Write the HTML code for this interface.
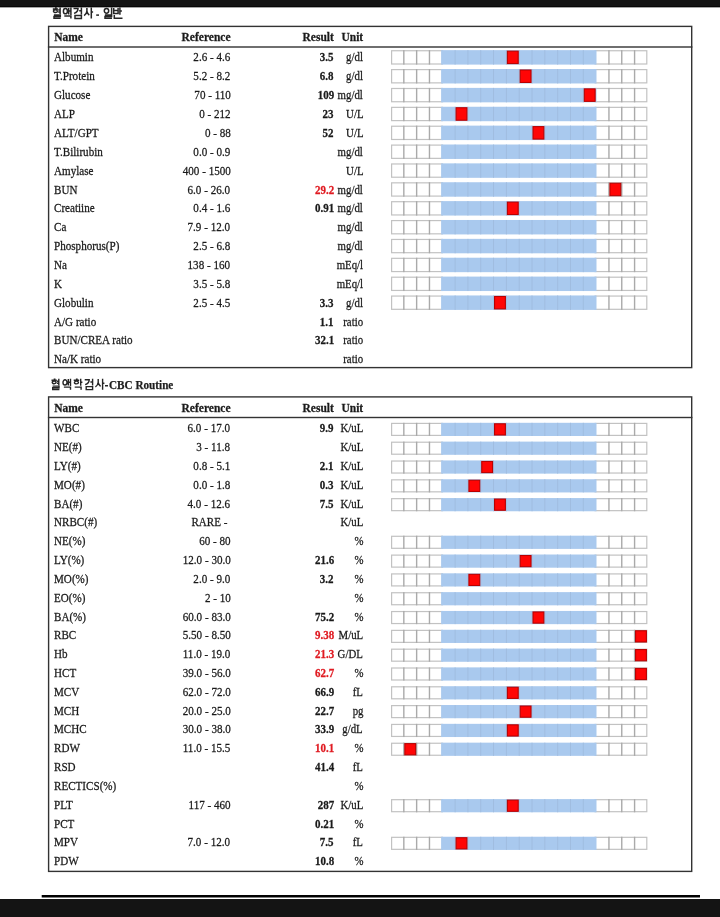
<!DOCTYPE html>
<html><head><meta charset="utf-8"><style>
html,body{margin:0;padding:0;background:#fff;}
body{width:720px;height:917px;position:relative;overflow:hidden;font-family:"Liberation Serif",serif;}
.t{position:absolute;font-size:11.5px;line-height:18.8px;white-space:pre;-webkit-text-stroke:0.25px currentColor;}
svg{position:absolute;left:0;top:0;}
#wrap{position:absolute;left:0;top:0;width:720px;height:917px;filter:blur(0.45px);}
</style></head><body>
<div id="wrap">
<svg width="720" height="917" viewBox="0 0 720 917">
<rect x="48.60" y="26.40" width="643.10" height="341.20" fill="none" stroke="#333" stroke-width="1.4"/><rect x="47.9" y="46.30" width="644.50" height="1.4" fill="#333"/><rect x="391.60" y="50.75" width="50.90" height="13.25" fill="#fff" stroke="#c2c2c2" stroke-width="1.2"/><rect x="595.10" y="50.75" width="51.70" height="13.25" fill="#fff" stroke="#c2c2c2" stroke-width="1.2"/><rect x="403.12" y="50.15" width="1.4" height="14.45" fill="#aaaaaa"/><rect x="415.94" y="50.15" width="1.4" height="14.45" fill="#aaaaaa"/><rect x="428.76" y="50.15" width="1.4" height="14.45" fill="#aaaaaa"/><rect x="608.24" y="50.15" width="1.4" height="14.45" fill="#aaaaaa"/><rect x="621.06" y="50.15" width="1.4" height="14.45" fill="#aaaaaa"/><rect x="633.88" y="50.15" width="1.4" height="14.45" fill="#aaaaaa"/><rect x="441.10" y="50.15" width="155.40" height="14.45" fill="#a9c9ee"/><rect x="454.60" y="50.15" width="1" height="14.45" fill="#a0bde0"/><rect x="467.42" y="50.15" width="1" height="14.45" fill="#a0bde0"/><rect x="480.24" y="50.15" width="1" height="14.45" fill="#a0bde0"/><rect x="493.06" y="50.15" width="1" height="14.45" fill="#a0bde0"/><rect x="505.88" y="50.15" width="1" height="14.45" fill="#a0bde0"/><rect x="518.70" y="50.15" width="1" height="14.45" fill="#a0bde0"/><rect x="531.52" y="50.15" width="1" height="14.45" fill="#a0bde0"/><rect x="544.34" y="50.15" width="1" height="14.45" fill="#a0bde0"/><rect x="557.16" y="50.15" width="1" height="14.45" fill="#a0bde0"/><rect x="569.98" y="50.15" width="1" height="14.45" fill="#a0bde0"/><rect x="582.80" y="50.15" width="1" height="14.45" fill="#a0bde0"/><rect x="507.38" y="51.15" width="10.82" height="12.45" fill="#ff0505" stroke="#b80000" stroke-width="1.1"/><rect x="391.60" y="69.62" width="50.90" height="13.25" fill="#fff" stroke="#c2c2c2" stroke-width="1.2"/><rect x="595.10" y="69.62" width="51.70" height="13.25" fill="#fff" stroke="#c2c2c2" stroke-width="1.2"/><rect x="403.12" y="69.02" width="1.4" height="14.45" fill="#aaaaaa"/><rect x="415.94" y="69.02" width="1.4" height="14.45" fill="#aaaaaa"/><rect x="428.76" y="69.02" width="1.4" height="14.45" fill="#aaaaaa"/><rect x="608.24" y="69.02" width="1.4" height="14.45" fill="#aaaaaa"/><rect x="621.06" y="69.02" width="1.4" height="14.45" fill="#aaaaaa"/><rect x="633.88" y="69.02" width="1.4" height="14.45" fill="#aaaaaa"/><rect x="441.10" y="69.02" width="155.40" height="14.45" fill="#a9c9ee"/><rect x="454.60" y="69.02" width="1" height="14.45" fill="#a0bde0"/><rect x="467.42" y="69.02" width="1" height="14.45" fill="#a0bde0"/><rect x="480.24" y="69.02" width="1" height="14.45" fill="#a0bde0"/><rect x="493.06" y="69.02" width="1" height="14.45" fill="#a0bde0"/><rect x="505.88" y="69.02" width="1" height="14.45" fill="#a0bde0"/><rect x="518.70" y="69.02" width="1" height="14.45" fill="#a0bde0"/><rect x="531.52" y="69.02" width="1" height="14.45" fill="#a0bde0"/><rect x="544.34" y="69.02" width="1" height="14.45" fill="#a0bde0"/><rect x="557.16" y="69.02" width="1" height="14.45" fill="#a0bde0"/><rect x="569.98" y="69.02" width="1" height="14.45" fill="#a0bde0"/><rect x="582.80" y="69.02" width="1" height="14.45" fill="#a0bde0"/><rect x="520.20" y="70.02" width="10.82" height="12.45" fill="#ff0505" stroke="#b80000" stroke-width="1.1"/><rect x="391.60" y="88.49" width="50.90" height="13.25" fill="#fff" stroke="#c2c2c2" stroke-width="1.2"/><rect x="595.10" y="88.49" width="51.70" height="13.25" fill="#fff" stroke="#c2c2c2" stroke-width="1.2"/><rect x="403.12" y="87.89" width="1.4" height="14.45" fill="#aaaaaa"/><rect x="415.94" y="87.89" width="1.4" height="14.45" fill="#aaaaaa"/><rect x="428.76" y="87.89" width="1.4" height="14.45" fill="#aaaaaa"/><rect x="608.24" y="87.89" width="1.4" height="14.45" fill="#aaaaaa"/><rect x="621.06" y="87.89" width="1.4" height="14.45" fill="#aaaaaa"/><rect x="633.88" y="87.89" width="1.4" height="14.45" fill="#aaaaaa"/><rect x="441.10" y="87.89" width="155.40" height="14.45" fill="#a9c9ee"/><rect x="454.60" y="87.89" width="1" height="14.45" fill="#a0bde0"/><rect x="467.42" y="87.89" width="1" height="14.45" fill="#a0bde0"/><rect x="480.24" y="87.89" width="1" height="14.45" fill="#a0bde0"/><rect x="493.06" y="87.89" width="1" height="14.45" fill="#a0bde0"/><rect x="505.88" y="87.89" width="1" height="14.45" fill="#a0bde0"/><rect x="518.70" y="87.89" width="1" height="14.45" fill="#a0bde0"/><rect x="531.52" y="87.89" width="1" height="14.45" fill="#a0bde0"/><rect x="544.34" y="87.89" width="1" height="14.45" fill="#a0bde0"/><rect x="557.16" y="87.89" width="1" height="14.45" fill="#a0bde0"/><rect x="569.98" y="87.89" width="1" height="14.45" fill="#a0bde0"/><rect x="582.80" y="87.89" width="1" height="14.45" fill="#a0bde0"/><rect x="584.30" y="88.89" width="10.82" height="12.45" fill="#ff0505" stroke="#b80000" stroke-width="1.1"/><rect x="391.60" y="107.36" width="50.90" height="13.25" fill="#fff" stroke="#c2c2c2" stroke-width="1.2"/><rect x="595.10" y="107.36" width="51.70" height="13.25" fill="#fff" stroke="#c2c2c2" stroke-width="1.2"/><rect x="403.12" y="106.76" width="1.4" height="14.45" fill="#aaaaaa"/><rect x="415.94" y="106.76" width="1.4" height="14.45" fill="#aaaaaa"/><rect x="428.76" y="106.76" width="1.4" height="14.45" fill="#aaaaaa"/><rect x="608.24" y="106.76" width="1.4" height="14.45" fill="#aaaaaa"/><rect x="621.06" y="106.76" width="1.4" height="14.45" fill="#aaaaaa"/><rect x="633.88" y="106.76" width="1.4" height="14.45" fill="#aaaaaa"/><rect x="441.10" y="106.76" width="155.40" height="14.45" fill="#a9c9ee"/><rect x="454.60" y="106.76" width="1" height="14.45" fill="#a0bde0"/><rect x="467.42" y="106.76" width="1" height="14.45" fill="#a0bde0"/><rect x="480.24" y="106.76" width="1" height="14.45" fill="#a0bde0"/><rect x="493.06" y="106.76" width="1" height="14.45" fill="#a0bde0"/><rect x="505.88" y="106.76" width="1" height="14.45" fill="#a0bde0"/><rect x="518.70" y="106.76" width="1" height="14.45" fill="#a0bde0"/><rect x="531.52" y="106.76" width="1" height="14.45" fill="#a0bde0"/><rect x="544.34" y="106.76" width="1" height="14.45" fill="#a0bde0"/><rect x="557.16" y="106.76" width="1" height="14.45" fill="#a0bde0"/><rect x="569.98" y="106.76" width="1" height="14.45" fill="#a0bde0"/><rect x="582.80" y="106.76" width="1" height="14.45" fill="#a0bde0"/><rect x="456.10" y="107.76" width="10.82" height="12.45" fill="#ff0505" stroke="#b80000" stroke-width="1.1"/><rect x="391.60" y="126.23" width="50.90" height="13.25" fill="#fff" stroke="#c2c2c2" stroke-width="1.2"/><rect x="595.10" y="126.23" width="51.70" height="13.25" fill="#fff" stroke="#c2c2c2" stroke-width="1.2"/><rect x="403.12" y="125.63" width="1.4" height="14.45" fill="#aaaaaa"/><rect x="415.94" y="125.63" width="1.4" height="14.45" fill="#aaaaaa"/><rect x="428.76" y="125.63" width="1.4" height="14.45" fill="#aaaaaa"/><rect x="608.24" y="125.63" width="1.4" height="14.45" fill="#aaaaaa"/><rect x="621.06" y="125.63" width="1.4" height="14.45" fill="#aaaaaa"/><rect x="633.88" y="125.63" width="1.4" height="14.45" fill="#aaaaaa"/><rect x="441.10" y="125.63" width="155.40" height="14.45" fill="#a9c9ee"/><rect x="454.60" y="125.63" width="1" height="14.45" fill="#a0bde0"/><rect x="467.42" y="125.63" width="1" height="14.45" fill="#a0bde0"/><rect x="480.24" y="125.63" width="1" height="14.45" fill="#a0bde0"/><rect x="493.06" y="125.63" width="1" height="14.45" fill="#a0bde0"/><rect x="505.88" y="125.63" width="1" height="14.45" fill="#a0bde0"/><rect x="518.70" y="125.63" width="1" height="14.45" fill="#a0bde0"/><rect x="531.52" y="125.63" width="1" height="14.45" fill="#a0bde0"/><rect x="544.34" y="125.63" width="1" height="14.45" fill="#a0bde0"/><rect x="557.16" y="125.63" width="1" height="14.45" fill="#a0bde0"/><rect x="569.98" y="125.63" width="1" height="14.45" fill="#a0bde0"/><rect x="582.80" y="125.63" width="1" height="14.45" fill="#a0bde0"/><rect x="533.02" y="126.63" width="10.82" height="12.45" fill="#ff0505" stroke="#b80000" stroke-width="1.1"/><rect x="391.60" y="145.10" width="50.90" height="13.25" fill="#fff" stroke="#c2c2c2" stroke-width="1.2"/><rect x="595.10" y="145.10" width="51.70" height="13.25" fill="#fff" stroke="#c2c2c2" stroke-width="1.2"/><rect x="403.12" y="144.50" width="1.4" height="14.45" fill="#aaaaaa"/><rect x="415.94" y="144.50" width="1.4" height="14.45" fill="#aaaaaa"/><rect x="428.76" y="144.50" width="1.4" height="14.45" fill="#aaaaaa"/><rect x="608.24" y="144.50" width="1.4" height="14.45" fill="#aaaaaa"/><rect x="621.06" y="144.50" width="1.4" height="14.45" fill="#aaaaaa"/><rect x="633.88" y="144.50" width="1.4" height="14.45" fill="#aaaaaa"/><rect x="441.10" y="144.50" width="155.40" height="14.45" fill="#a9c9ee"/><rect x="454.60" y="144.50" width="1" height="14.45" fill="#a0bde0"/><rect x="467.42" y="144.50" width="1" height="14.45" fill="#a0bde0"/><rect x="480.24" y="144.50" width="1" height="14.45" fill="#a0bde0"/><rect x="493.06" y="144.50" width="1" height="14.45" fill="#a0bde0"/><rect x="505.88" y="144.50" width="1" height="14.45" fill="#a0bde0"/><rect x="518.70" y="144.50" width="1" height="14.45" fill="#a0bde0"/><rect x="531.52" y="144.50" width="1" height="14.45" fill="#a0bde0"/><rect x="544.34" y="144.50" width="1" height="14.45" fill="#a0bde0"/><rect x="557.16" y="144.50" width="1" height="14.45" fill="#a0bde0"/><rect x="569.98" y="144.50" width="1" height="14.45" fill="#a0bde0"/><rect x="582.80" y="144.50" width="1" height="14.45" fill="#a0bde0"/><rect x="391.60" y="163.97" width="50.90" height="13.25" fill="#fff" stroke="#c2c2c2" stroke-width="1.2"/><rect x="595.10" y="163.97" width="51.70" height="13.25" fill="#fff" stroke="#c2c2c2" stroke-width="1.2"/><rect x="403.12" y="163.37" width="1.4" height="14.45" fill="#aaaaaa"/><rect x="415.94" y="163.37" width="1.4" height="14.45" fill="#aaaaaa"/><rect x="428.76" y="163.37" width="1.4" height="14.45" fill="#aaaaaa"/><rect x="608.24" y="163.37" width="1.4" height="14.45" fill="#aaaaaa"/><rect x="621.06" y="163.37" width="1.4" height="14.45" fill="#aaaaaa"/><rect x="633.88" y="163.37" width="1.4" height="14.45" fill="#aaaaaa"/><rect x="441.10" y="163.37" width="155.40" height="14.45" fill="#a9c9ee"/><rect x="454.60" y="163.37" width="1" height="14.45" fill="#a0bde0"/><rect x="467.42" y="163.37" width="1" height="14.45" fill="#a0bde0"/><rect x="480.24" y="163.37" width="1" height="14.45" fill="#a0bde0"/><rect x="493.06" y="163.37" width="1" height="14.45" fill="#a0bde0"/><rect x="505.88" y="163.37" width="1" height="14.45" fill="#a0bde0"/><rect x="518.70" y="163.37" width="1" height="14.45" fill="#a0bde0"/><rect x="531.52" y="163.37" width="1" height="14.45" fill="#a0bde0"/><rect x="544.34" y="163.37" width="1" height="14.45" fill="#a0bde0"/><rect x="557.16" y="163.37" width="1" height="14.45" fill="#a0bde0"/><rect x="569.98" y="163.37" width="1" height="14.45" fill="#a0bde0"/><rect x="582.80" y="163.37" width="1" height="14.45" fill="#a0bde0"/><rect x="391.60" y="182.84" width="50.90" height="13.25" fill="#fff" stroke="#c2c2c2" stroke-width="1.2"/><rect x="595.10" y="182.84" width="51.70" height="13.25" fill="#fff" stroke="#c2c2c2" stroke-width="1.2"/><rect x="403.12" y="182.24" width="1.4" height="14.45" fill="#aaaaaa"/><rect x="415.94" y="182.24" width="1.4" height="14.45" fill="#aaaaaa"/><rect x="428.76" y="182.24" width="1.4" height="14.45" fill="#aaaaaa"/><rect x="608.24" y="182.24" width="1.4" height="14.45" fill="#aaaaaa"/><rect x="621.06" y="182.24" width="1.4" height="14.45" fill="#aaaaaa"/><rect x="633.88" y="182.24" width="1.4" height="14.45" fill="#aaaaaa"/><rect x="441.10" y="182.24" width="155.40" height="14.45" fill="#a9c9ee"/><rect x="454.60" y="182.24" width="1" height="14.45" fill="#a0bde0"/><rect x="467.42" y="182.24" width="1" height="14.45" fill="#a0bde0"/><rect x="480.24" y="182.24" width="1" height="14.45" fill="#a0bde0"/><rect x="493.06" y="182.24" width="1" height="14.45" fill="#a0bde0"/><rect x="505.88" y="182.24" width="1" height="14.45" fill="#a0bde0"/><rect x="518.70" y="182.24" width="1" height="14.45" fill="#a0bde0"/><rect x="531.52" y="182.24" width="1" height="14.45" fill="#a0bde0"/><rect x="544.34" y="182.24" width="1" height="14.45" fill="#a0bde0"/><rect x="557.16" y="182.24" width="1" height="14.45" fill="#a0bde0"/><rect x="569.98" y="182.24" width="1" height="14.45" fill="#a0bde0"/><rect x="582.80" y="182.24" width="1" height="14.45" fill="#a0bde0"/><rect x="609.94" y="183.24" width="10.82" height="12.45" fill="#ff0505" stroke="#b80000" stroke-width="1.1"/><rect x="391.60" y="201.71" width="50.90" height="13.25" fill="#fff" stroke="#c2c2c2" stroke-width="1.2"/><rect x="595.10" y="201.71" width="51.70" height="13.25" fill="#fff" stroke="#c2c2c2" stroke-width="1.2"/><rect x="403.12" y="201.11" width="1.4" height="14.45" fill="#aaaaaa"/><rect x="415.94" y="201.11" width="1.4" height="14.45" fill="#aaaaaa"/><rect x="428.76" y="201.11" width="1.4" height="14.45" fill="#aaaaaa"/><rect x="608.24" y="201.11" width="1.4" height="14.45" fill="#aaaaaa"/><rect x="621.06" y="201.11" width="1.4" height="14.45" fill="#aaaaaa"/><rect x="633.88" y="201.11" width="1.4" height="14.45" fill="#aaaaaa"/><rect x="441.10" y="201.11" width="155.40" height="14.45" fill="#a9c9ee"/><rect x="454.60" y="201.11" width="1" height="14.45" fill="#a0bde0"/><rect x="467.42" y="201.11" width="1" height="14.45" fill="#a0bde0"/><rect x="480.24" y="201.11" width="1" height="14.45" fill="#a0bde0"/><rect x="493.06" y="201.11" width="1" height="14.45" fill="#a0bde0"/><rect x="505.88" y="201.11" width="1" height="14.45" fill="#a0bde0"/><rect x="518.70" y="201.11" width="1" height="14.45" fill="#a0bde0"/><rect x="531.52" y="201.11" width="1" height="14.45" fill="#a0bde0"/><rect x="544.34" y="201.11" width="1" height="14.45" fill="#a0bde0"/><rect x="557.16" y="201.11" width="1" height="14.45" fill="#a0bde0"/><rect x="569.98" y="201.11" width="1" height="14.45" fill="#a0bde0"/><rect x="582.80" y="201.11" width="1" height="14.45" fill="#a0bde0"/><rect x="507.38" y="202.11" width="10.82" height="12.45" fill="#ff0505" stroke="#b80000" stroke-width="1.1"/><rect x="391.60" y="220.58" width="50.90" height="13.25" fill="#fff" stroke="#c2c2c2" stroke-width="1.2"/><rect x="595.10" y="220.58" width="51.70" height="13.25" fill="#fff" stroke="#c2c2c2" stroke-width="1.2"/><rect x="403.12" y="219.98" width="1.4" height="14.45" fill="#aaaaaa"/><rect x="415.94" y="219.98" width="1.4" height="14.45" fill="#aaaaaa"/><rect x="428.76" y="219.98" width="1.4" height="14.45" fill="#aaaaaa"/><rect x="608.24" y="219.98" width="1.4" height="14.45" fill="#aaaaaa"/><rect x="621.06" y="219.98" width="1.4" height="14.45" fill="#aaaaaa"/><rect x="633.88" y="219.98" width="1.4" height="14.45" fill="#aaaaaa"/><rect x="441.10" y="219.98" width="155.40" height="14.45" fill="#a9c9ee"/><rect x="454.60" y="219.98" width="1" height="14.45" fill="#a0bde0"/><rect x="467.42" y="219.98" width="1" height="14.45" fill="#a0bde0"/><rect x="480.24" y="219.98" width="1" height="14.45" fill="#a0bde0"/><rect x="493.06" y="219.98" width="1" height="14.45" fill="#a0bde0"/><rect x="505.88" y="219.98" width="1" height="14.45" fill="#a0bde0"/><rect x="518.70" y="219.98" width="1" height="14.45" fill="#a0bde0"/><rect x="531.52" y="219.98" width="1" height="14.45" fill="#a0bde0"/><rect x="544.34" y="219.98" width="1" height="14.45" fill="#a0bde0"/><rect x="557.16" y="219.98" width="1" height="14.45" fill="#a0bde0"/><rect x="569.98" y="219.98" width="1" height="14.45" fill="#a0bde0"/><rect x="582.80" y="219.98" width="1" height="14.45" fill="#a0bde0"/><rect x="391.60" y="239.45" width="50.90" height="13.25" fill="#fff" stroke="#c2c2c2" stroke-width="1.2"/><rect x="595.10" y="239.45" width="51.70" height="13.25" fill="#fff" stroke="#c2c2c2" stroke-width="1.2"/><rect x="403.12" y="238.85" width="1.4" height="14.45" fill="#aaaaaa"/><rect x="415.94" y="238.85" width="1.4" height="14.45" fill="#aaaaaa"/><rect x="428.76" y="238.85" width="1.4" height="14.45" fill="#aaaaaa"/><rect x="608.24" y="238.85" width="1.4" height="14.45" fill="#aaaaaa"/><rect x="621.06" y="238.85" width="1.4" height="14.45" fill="#aaaaaa"/><rect x="633.88" y="238.85" width="1.4" height="14.45" fill="#aaaaaa"/><rect x="441.10" y="238.85" width="155.40" height="14.45" fill="#a9c9ee"/><rect x="454.60" y="238.85" width="1" height="14.45" fill="#a0bde0"/><rect x="467.42" y="238.85" width="1" height="14.45" fill="#a0bde0"/><rect x="480.24" y="238.85" width="1" height="14.45" fill="#a0bde0"/><rect x="493.06" y="238.85" width="1" height="14.45" fill="#a0bde0"/><rect x="505.88" y="238.85" width="1" height="14.45" fill="#a0bde0"/><rect x="518.70" y="238.85" width="1" height="14.45" fill="#a0bde0"/><rect x="531.52" y="238.85" width="1" height="14.45" fill="#a0bde0"/><rect x="544.34" y="238.85" width="1" height="14.45" fill="#a0bde0"/><rect x="557.16" y="238.85" width="1" height="14.45" fill="#a0bde0"/><rect x="569.98" y="238.85" width="1" height="14.45" fill="#a0bde0"/><rect x="582.80" y="238.85" width="1" height="14.45" fill="#a0bde0"/><rect x="391.60" y="258.32" width="50.90" height="13.25" fill="#fff" stroke="#c2c2c2" stroke-width="1.2"/><rect x="595.10" y="258.32" width="51.70" height="13.25" fill="#fff" stroke="#c2c2c2" stroke-width="1.2"/><rect x="403.12" y="257.72" width="1.4" height="14.45" fill="#aaaaaa"/><rect x="415.94" y="257.72" width="1.4" height="14.45" fill="#aaaaaa"/><rect x="428.76" y="257.72" width="1.4" height="14.45" fill="#aaaaaa"/><rect x="608.24" y="257.72" width="1.4" height="14.45" fill="#aaaaaa"/><rect x="621.06" y="257.72" width="1.4" height="14.45" fill="#aaaaaa"/><rect x="633.88" y="257.72" width="1.4" height="14.45" fill="#aaaaaa"/><rect x="441.10" y="257.72" width="155.40" height="14.45" fill="#a9c9ee"/><rect x="454.60" y="257.72" width="1" height="14.45" fill="#a0bde0"/><rect x="467.42" y="257.72" width="1" height="14.45" fill="#a0bde0"/><rect x="480.24" y="257.72" width="1" height="14.45" fill="#a0bde0"/><rect x="493.06" y="257.72" width="1" height="14.45" fill="#a0bde0"/><rect x="505.88" y="257.72" width="1" height="14.45" fill="#a0bde0"/><rect x="518.70" y="257.72" width="1" height="14.45" fill="#a0bde0"/><rect x="531.52" y="257.72" width="1" height="14.45" fill="#a0bde0"/><rect x="544.34" y="257.72" width="1" height="14.45" fill="#a0bde0"/><rect x="557.16" y="257.72" width="1" height="14.45" fill="#a0bde0"/><rect x="569.98" y="257.72" width="1" height="14.45" fill="#a0bde0"/><rect x="582.80" y="257.72" width="1" height="14.45" fill="#a0bde0"/><rect x="391.60" y="277.19" width="50.90" height="13.25" fill="#fff" stroke="#c2c2c2" stroke-width="1.2"/><rect x="595.10" y="277.19" width="51.70" height="13.25" fill="#fff" stroke="#c2c2c2" stroke-width="1.2"/><rect x="403.12" y="276.59" width="1.4" height="14.45" fill="#aaaaaa"/><rect x="415.94" y="276.59" width="1.4" height="14.45" fill="#aaaaaa"/><rect x="428.76" y="276.59" width="1.4" height="14.45" fill="#aaaaaa"/><rect x="608.24" y="276.59" width="1.4" height="14.45" fill="#aaaaaa"/><rect x="621.06" y="276.59" width="1.4" height="14.45" fill="#aaaaaa"/><rect x="633.88" y="276.59" width="1.4" height="14.45" fill="#aaaaaa"/><rect x="441.10" y="276.59" width="155.40" height="14.45" fill="#a9c9ee"/><rect x="454.60" y="276.59" width="1" height="14.45" fill="#a0bde0"/><rect x="467.42" y="276.59" width="1" height="14.45" fill="#a0bde0"/><rect x="480.24" y="276.59" width="1" height="14.45" fill="#a0bde0"/><rect x="493.06" y="276.59" width="1" height="14.45" fill="#a0bde0"/><rect x="505.88" y="276.59" width="1" height="14.45" fill="#a0bde0"/><rect x="518.70" y="276.59" width="1" height="14.45" fill="#a0bde0"/><rect x="531.52" y="276.59" width="1" height="14.45" fill="#a0bde0"/><rect x="544.34" y="276.59" width="1" height="14.45" fill="#a0bde0"/><rect x="557.16" y="276.59" width="1" height="14.45" fill="#a0bde0"/><rect x="569.98" y="276.59" width="1" height="14.45" fill="#a0bde0"/><rect x="582.80" y="276.59" width="1" height="14.45" fill="#a0bde0"/><rect x="391.60" y="296.06" width="50.90" height="13.25" fill="#fff" stroke="#c2c2c2" stroke-width="1.2"/><rect x="595.10" y="296.06" width="51.70" height="13.25" fill="#fff" stroke="#c2c2c2" stroke-width="1.2"/><rect x="403.12" y="295.46" width="1.4" height="14.45" fill="#aaaaaa"/><rect x="415.94" y="295.46" width="1.4" height="14.45" fill="#aaaaaa"/><rect x="428.76" y="295.46" width="1.4" height="14.45" fill="#aaaaaa"/><rect x="608.24" y="295.46" width="1.4" height="14.45" fill="#aaaaaa"/><rect x="621.06" y="295.46" width="1.4" height="14.45" fill="#aaaaaa"/><rect x="633.88" y="295.46" width="1.4" height="14.45" fill="#aaaaaa"/><rect x="441.10" y="295.46" width="155.40" height="14.45" fill="#a9c9ee"/><rect x="454.60" y="295.46" width="1" height="14.45" fill="#a0bde0"/><rect x="467.42" y="295.46" width="1" height="14.45" fill="#a0bde0"/><rect x="480.24" y="295.46" width="1" height="14.45" fill="#a0bde0"/><rect x="493.06" y="295.46" width="1" height="14.45" fill="#a0bde0"/><rect x="505.88" y="295.46" width="1" height="14.45" fill="#a0bde0"/><rect x="518.70" y="295.46" width="1" height="14.45" fill="#a0bde0"/><rect x="531.52" y="295.46" width="1" height="14.45" fill="#a0bde0"/><rect x="544.34" y="295.46" width="1" height="14.45" fill="#a0bde0"/><rect x="557.16" y="295.46" width="1" height="14.45" fill="#a0bde0"/><rect x="569.98" y="295.46" width="1" height="14.45" fill="#a0bde0"/><rect x="582.80" y="295.46" width="1" height="14.45" fill="#a0bde0"/><rect x="494.56" y="296.46" width="10.82" height="12.45" fill="#ff0505" stroke="#b80000" stroke-width="1.1"/><rect x="48.60" y="396.90" width="643.10" height="474.50" fill="none" stroke="#333" stroke-width="1.4"/><rect x="47.9" y="416.80" width="644.50" height="1.4" fill="#333"/><rect x="391.60" y="423.40" width="50.90" height="12.00" fill="#fff" stroke="#c2c2c2" stroke-width="1.2"/><rect x="595.10" y="423.40" width="51.70" height="12.00" fill="#fff" stroke="#c2c2c2" stroke-width="1.2"/><rect x="403.12" y="422.80" width="1.4" height="13.20" fill="#aaaaaa"/><rect x="415.94" y="422.80" width="1.4" height="13.20" fill="#aaaaaa"/><rect x="428.76" y="422.80" width="1.4" height="13.20" fill="#aaaaaa"/><rect x="608.24" y="422.80" width="1.4" height="13.20" fill="#aaaaaa"/><rect x="621.06" y="422.80" width="1.4" height="13.20" fill="#aaaaaa"/><rect x="633.88" y="422.80" width="1.4" height="13.20" fill="#aaaaaa"/><rect x="441.10" y="422.80" width="155.40" height="13.20" fill="#a9c9ee"/><rect x="454.60" y="422.80" width="1" height="13.20" fill="#a0bde0"/><rect x="467.42" y="422.80" width="1" height="13.20" fill="#a0bde0"/><rect x="480.24" y="422.80" width="1" height="13.20" fill="#a0bde0"/><rect x="493.06" y="422.80" width="1" height="13.20" fill="#a0bde0"/><rect x="505.88" y="422.80" width="1" height="13.20" fill="#a0bde0"/><rect x="518.70" y="422.80" width="1" height="13.20" fill="#a0bde0"/><rect x="531.52" y="422.80" width="1" height="13.20" fill="#a0bde0"/><rect x="544.34" y="422.80" width="1" height="13.20" fill="#a0bde0"/><rect x="557.16" y="422.80" width="1" height="13.20" fill="#a0bde0"/><rect x="569.98" y="422.80" width="1" height="13.20" fill="#a0bde0"/><rect x="582.80" y="422.80" width="1" height="13.20" fill="#a0bde0"/><rect x="494.56" y="423.80" width="10.82" height="11.20" fill="#ff0505" stroke="#b80000" stroke-width="1.1"/><rect x="391.60" y="442.21" width="50.90" height="12.00" fill="#fff" stroke="#c2c2c2" stroke-width="1.2"/><rect x="595.10" y="442.21" width="51.70" height="12.00" fill="#fff" stroke="#c2c2c2" stroke-width="1.2"/><rect x="403.12" y="441.61" width="1.4" height="13.20" fill="#aaaaaa"/><rect x="415.94" y="441.61" width="1.4" height="13.20" fill="#aaaaaa"/><rect x="428.76" y="441.61" width="1.4" height="13.20" fill="#aaaaaa"/><rect x="608.24" y="441.61" width="1.4" height="13.20" fill="#aaaaaa"/><rect x="621.06" y="441.61" width="1.4" height="13.20" fill="#aaaaaa"/><rect x="633.88" y="441.61" width="1.4" height="13.20" fill="#aaaaaa"/><rect x="441.10" y="441.61" width="155.40" height="13.20" fill="#a9c9ee"/><rect x="454.60" y="441.61" width="1" height="13.20" fill="#a0bde0"/><rect x="467.42" y="441.61" width="1" height="13.20" fill="#a0bde0"/><rect x="480.24" y="441.61" width="1" height="13.20" fill="#a0bde0"/><rect x="493.06" y="441.61" width="1" height="13.20" fill="#a0bde0"/><rect x="505.88" y="441.61" width="1" height="13.20" fill="#a0bde0"/><rect x="518.70" y="441.61" width="1" height="13.20" fill="#a0bde0"/><rect x="531.52" y="441.61" width="1" height="13.20" fill="#a0bde0"/><rect x="544.34" y="441.61" width="1" height="13.20" fill="#a0bde0"/><rect x="557.16" y="441.61" width="1" height="13.20" fill="#a0bde0"/><rect x="569.98" y="441.61" width="1" height="13.20" fill="#a0bde0"/><rect x="582.80" y="441.61" width="1" height="13.20" fill="#a0bde0"/><rect x="391.60" y="461.03" width="50.90" height="12.00" fill="#fff" stroke="#c2c2c2" stroke-width="1.2"/><rect x="595.10" y="461.03" width="51.70" height="12.00" fill="#fff" stroke="#c2c2c2" stroke-width="1.2"/><rect x="403.12" y="460.43" width="1.4" height="13.20" fill="#aaaaaa"/><rect x="415.94" y="460.43" width="1.4" height="13.20" fill="#aaaaaa"/><rect x="428.76" y="460.43" width="1.4" height="13.20" fill="#aaaaaa"/><rect x="608.24" y="460.43" width="1.4" height="13.20" fill="#aaaaaa"/><rect x="621.06" y="460.43" width="1.4" height="13.20" fill="#aaaaaa"/><rect x="633.88" y="460.43" width="1.4" height="13.20" fill="#aaaaaa"/><rect x="441.10" y="460.43" width="155.40" height="13.20" fill="#a9c9ee"/><rect x="454.60" y="460.43" width="1" height="13.20" fill="#a0bde0"/><rect x="467.42" y="460.43" width="1" height="13.20" fill="#a0bde0"/><rect x="480.24" y="460.43" width="1" height="13.20" fill="#a0bde0"/><rect x="493.06" y="460.43" width="1" height="13.20" fill="#a0bde0"/><rect x="505.88" y="460.43" width="1" height="13.20" fill="#a0bde0"/><rect x="518.70" y="460.43" width="1" height="13.20" fill="#a0bde0"/><rect x="531.52" y="460.43" width="1" height="13.20" fill="#a0bde0"/><rect x="544.34" y="460.43" width="1" height="13.20" fill="#a0bde0"/><rect x="557.16" y="460.43" width="1" height="13.20" fill="#a0bde0"/><rect x="569.98" y="460.43" width="1" height="13.20" fill="#a0bde0"/><rect x="582.80" y="460.43" width="1" height="13.20" fill="#a0bde0"/><rect x="481.74" y="461.43" width="10.82" height="11.20" fill="#ff0505" stroke="#b80000" stroke-width="1.1"/><rect x="391.60" y="479.84" width="50.90" height="12.00" fill="#fff" stroke="#c2c2c2" stroke-width="1.2"/><rect x="595.10" y="479.84" width="51.70" height="12.00" fill="#fff" stroke="#c2c2c2" stroke-width="1.2"/><rect x="403.12" y="479.24" width="1.4" height="13.20" fill="#aaaaaa"/><rect x="415.94" y="479.24" width="1.4" height="13.20" fill="#aaaaaa"/><rect x="428.76" y="479.24" width="1.4" height="13.20" fill="#aaaaaa"/><rect x="608.24" y="479.24" width="1.4" height="13.20" fill="#aaaaaa"/><rect x="621.06" y="479.24" width="1.4" height="13.20" fill="#aaaaaa"/><rect x="633.88" y="479.24" width="1.4" height="13.20" fill="#aaaaaa"/><rect x="441.10" y="479.24" width="155.40" height="13.20" fill="#a9c9ee"/><rect x="454.60" y="479.24" width="1" height="13.20" fill="#a0bde0"/><rect x="467.42" y="479.24" width="1" height="13.20" fill="#a0bde0"/><rect x="480.24" y="479.24" width="1" height="13.20" fill="#a0bde0"/><rect x="493.06" y="479.24" width="1" height="13.20" fill="#a0bde0"/><rect x="505.88" y="479.24" width="1" height="13.20" fill="#a0bde0"/><rect x="518.70" y="479.24" width="1" height="13.20" fill="#a0bde0"/><rect x="531.52" y="479.24" width="1" height="13.20" fill="#a0bde0"/><rect x="544.34" y="479.24" width="1" height="13.20" fill="#a0bde0"/><rect x="557.16" y="479.24" width="1" height="13.20" fill="#a0bde0"/><rect x="569.98" y="479.24" width="1" height="13.20" fill="#a0bde0"/><rect x="582.80" y="479.24" width="1" height="13.20" fill="#a0bde0"/><rect x="468.92" y="480.24" width="10.82" height="11.20" fill="#ff0505" stroke="#b80000" stroke-width="1.1"/><rect x="391.60" y="498.66" width="50.90" height="12.00" fill="#fff" stroke="#c2c2c2" stroke-width="1.2"/><rect x="595.10" y="498.66" width="51.70" height="12.00" fill="#fff" stroke="#c2c2c2" stroke-width="1.2"/><rect x="403.12" y="498.06" width="1.4" height="13.20" fill="#aaaaaa"/><rect x="415.94" y="498.06" width="1.4" height="13.20" fill="#aaaaaa"/><rect x="428.76" y="498.06" width="1.4" height="13.20" fill="#aaaaaa"/><rect x="608.24" y="498.06" width="1.4" height="13.20" fill="#aaaaaa"/><rect x="621.06" y="498.06" width="1.4" height="13.20" fill="#aaaaaa"/><rect x="633.88" y="498.06" width="1.4" height="13.20" fill="#aaaaaa"/><rect x="441.10" y="498.06" width="155.40" height="13.20" fill="#a9c9ee"/><rect x="454.60" y="498.06" width="1" height="13.20" fill="#a0bde0"/><rect x="467.42" y="498.06" width="1" height="13.20" fill="#a0bde0"/><rect x="480.24" y="498.06" width="1" height="13.20" fill="#a0bde0"/><rect x="493.06" y="498.06" width="1" height="13.20" fill="#a0bde0"/><rect x="505.88" y="498.06" width="1" height="13.20" fill="#a0bde0"/><rect x="518.70" y="498.06" width="1" height="13.20" fill="#a0bde0"/><rect x="531.52" y="498.06" width="1" height="13.20" fill="#a0bde0"/><rect x="544.34" y="498.06" width="1" height="13.20" fill="#a0bde0"/><rect x="557.16" y="498.06" width="1" height="13.20" fill="#a0bde0"/><rect x="569.98" y="498.06" width="1" height="13.20" fill="#a0bde0"/><rect x="582.80" y="498.06" width="1" height="13.20" fill="#a0bde0"/><rect x="494.56" y="499.06" width="10.82" height="11.20" fill="#ff0505" stroke="#b80000" stroke-width="1.1"/><rect x="391.60" y="536.29" width="50.90" height="12.00" fill="#fff" stroke="#c2c2c2" stroke-width="1.2"/><rect x="595.10" y="536.29" width="51.70" height="12.00" fill="#fff" stroke="#c2c2c2" stroke-width="1.2"/><rect x="403.12" y="535.69" width="1.4" height="13.20" fill="#aaaaaa"/><rect x="415.94" y="535.69" width="1.4" height="13.20" fill="#aaaaaa"/><rect x="428.76" y="535.69" width="1.4" height="13.20" fill="#aaaaaa"/><rect x="608.24" y="535.69" width="1.4" height="13.20" fill="#aaaaaa"/><rect x="621.06" y="535.69" width="1.4" height="13.20" fill="#aaaaaa"/><rect x="633.88" y="535.69" width="1.4" height="13.20" fill="#aaaaaa"/><rect x="441.10" y="535.69" width="155.40" height="13.20" fill="#a9c9ee"/><rect x="454.60" y="535.69" width="1" height="13.20" fill="#a0bde0"/><rect x="467.42" y="535.69" width="1" height="13.20" fill="#a0bde0"/><rect x="480.24" y="535.69" width="1" height="13.20" fill="#a0bde0"/><rect x="493.06" y="535.69" width="1" height="13.20" fill="#a0bde0"/><rect x="505.88" y="535.69" width="1" height="13.20" fill="#a0bde0"/><rect x="518.70" y="535.69" width="1" height="13.20" fill="#a0bde0"/><rect x="531.52" y="535.69" width="1" height="13.20" fill="#a0bde0"/><rect x="544.34" y="535.69" width="1" height="13.20" fill="#a0bde0"/><rect x="557.16" y="535.69" width="1" height="13.20" fill="#a0bde0"/><rect x="569.98" y="535.69" width="1" height="13.20" fill="#a0bde0"/><rect x="582.80" y="535.69" width="1" height="13.20" fill="#a0bde0"/><rect x="391.60" y="555.11" width="50.90" height="12.00" fill="#fff" stroke="#c2c2c2" stroke-width="1.2"/><rect x="595.10" y="555.11" width="51.70" height="12.00" fill="#fff" stroke="#c2c2c2" stroke-width="1.2"/><rect x="403.12" y="554.50" width="1.4" height="13.20" fill="#aaaaaa"/><rect x="415.94" y="554.50" width="1.4" height="13.20" fill="#aaaaaa"/><rect x="428.76" y="554.50" width="1.4" height="13.20" fill="#aaaaaa"/><rect x="608.24" y="554.50" width="1.4" height="13.20" fill="#aaaaaa"/><rect x="621.06" y="554.50" width="1.4" height="13.20" fill="#aaaaaa"/><rect x="633.88" y="554.50" width="1.4" height="13.20" fill="#aaaaaa"/><rect x="441.10" y="554.50" width="155.40" height="13.20" fill="#a9c9ee"/><rect x="454.60" y="554.50" width="1" height="13.20" fill="#a0bde0"/><rect x="467.42" y="554.50" width="1" height="13.20" fill="#a0bde0"/><rect x="480.24" y="554.50" width="1" height="13.20" fill="#a0bde0"/><rect x="493.06" y="554.50" width="1" height="13.20" fill="#a0bde0"/><rect x="505.88" y="554.50" width="1" height="13.20" fill="#a0bde0"/><rect x="518.70" y="554.50" width="1" height="13.20" fill="#a0bde0"/><rect x="531.52" y="554.50" width="1" height="13.20" fill="#a0bde0"/><rect x="544.34" y="554.50" width="1" height="13.20" fill="#a0bde0"/><rect x="557.16" y="554.50" width="1" height="13.20" fill="#a0bde0"/><rect x="569.98" y="554.50" width="1" height="13.20" fill="#a0bde0"/><rect x="582.80" y="554.50" width="1" height="13.20" fill="#a0bde0"/><rect x="520.20" y="555.50" width="10.82" height="11.20" fill="#ff0505" stroke="#b80000" stroke-width="1.1"/><rect x="391.60" y="573.92" width="50.90" height="12.00" fill="#fff" stroke="#c2c2c2" stroke-width="1.2"/><rect x="595.10" y="573.92" width="51.70" height="12.00" fill="#fff" stroke="#c2c2c2" stroke-width="1.2"/><rect x="403.12" y="573.32" width="1.4" height="13.20" fill="#aaaaaa"/><rect x="415.94" y="573.32" width="1.4" height="13.20" fill="#aaaaaa"/><rect x="428.76" y="573.32" width="1.4" height="13.20" fill="#aaaaaa"/><rect x="608.24" y="573.32" width="1.4" height="13.20" fill="#aaaaaa"/><rect x="621.06" y="573.32" width="1.4" height="13.20" fill="#aaaaaa"/><rect x="633.88" y="573.32" width="1.4" height="13.20" fill="#aaaaaa"/><rect x="441.10" y="573.32" width="155.40" height="13.20" fill="#a9c9ee"/><rect x="454.60" y="573.32" width="1" height="13.20" fill="#a0bde0"/><rect x="467.42" y="573.32" width="1" height="13.20" fill="#a0bde0"/><rect x="480.24" y="573.32" width="1" height="13.20" fill="#a0bde0"/><rect x="493.06" y="573.32" width="1" height="13.20" fill="#a0bde0"/><rect x="505.88" y="573.32" width="1" height="13.20" fill="#a0bde0"/><rect x="518.70" y="573.32" width="1" height="13.20" fill="#a0bde0"/><rect x="531.52" y="573.32" width="1" height="13.20" fill="#a0bde0"/><rect x="544.34" y="573.32" width="1" height="13.20" fill="#a0bde0"/><rect x="557.16" y="573.32" width="1" height="13.20" fill="#a0bde0"/><rect x="569.98" y="573.32" width="1" height="13.20" fill="#a0bde0"/><rect x="582.80" y="573.32" width="1" height="13.20" fill="#a0bde0"/><rect x="468.92" y="574.32" width="10.82" height="11.20" fill="#ff0505" stroke="#b80000" stroke-width="1.1"/><rect x="391.60" y="592.74" width="50.90" height="12.00" fill="#fff" stroke="#c2c2c2" stroke-width="1.2"/><rect x="595.10" y="592.74" width="51.70" height="12.00" fill="#fff" stroke="#c2c2c2" stroke-width="1.2"/><rect x="403.12" y="592.13" width="1.4" height="13.20" fill="#aaaaaa"/><rect x="415.94" y="592.13" width="1.4" height="13.20" fill="#aaaaaa"/><rect x="428.76" y="592.13" width="1.4" height="13.20" fill="#aaaaaa"/><rect x="608.24" y="592.13" width="1.4" height="13.20" fill="#aaaaaa"/><rect x="621.06" y="592.13" width="1.4" height="13.20" fill="#aaaaaa"/><rect x="633.88" y="592.13" width="1.4" height="13.20" fill="#aaaaaa"/><rect x="441.10" y="592.13" width="155.40" height="13.20" fill="#a9c9ee"/><rect x="454.60" y="592.13" width="1" height="13.20" fill="#a0bde0"/><rect x="467.42" y="592.13" width="1" height="13.20" fill="#a0bde0"/><rect x="480.24" y="592.13" width="1" height="13.20" fill="#a0bde0"/><rect x="493.06" y="592.13" width="1" height="13.20" fill="#a0bde0"/><rect x="505.88" y="592.13" width="1" height="13.20" fill="#a0bde0"/><rect x="518.70" y="592.13" width="1" height="13.20" fill="#a0bde0"/><rect x="531.52" y="592.13" width="1" height="13.20" fill="#a0bde0"/><rect x="544.34" y="592.13" width="1" height="13.20" fill="#a0bde0"/><rect x="557.16" y="592.13" width="1" height="13.20" fill="#a0bde0"/><rect x="569.98" y="592.13" width="1" height="13.20" fill="#a0bde0"/><rect x="582.80" y="592.13" width="1" height="13.20" fill="#a0bde0"/><rect x="391.60" y="611.55" width="50.90" height="12.00" fill="#fff" stroke="#c2c2c2" stroke-width="1.2"/><rect x="595.10" y="611.55" width="51.70" height="12.00" fill="#fff" stroke="#c2c2c2" stroke-width="1.2"/><rect x="403.12" y="610.95" width="1.4" height="13.20" fill="#aaaaaa"/><rect x="415.94" y="610.95" width="1.4" height="13.20" fill="#aaaaaa"/><rect x="428.76" y="610.95" width="1.4" height="13.20" fill="#aaaaaa"/><rect x="608.24" y="610.95" width="1.4" height="13.20" fill="#aaaaaa"/><rect x="621.06" y="610.95" width="1.4" height="13.20" fill="#aaaaaa"/><rect x="633.88" y="610.95" width="1.4" height="13.20" fill="#aaaaaa"/><rect x="441.10" y="610.95" width="155.40" height="13.20" fill="#a9c9ee"/><rect x="454.60" y="610.95" width="1" height="13.20" fill="#a0bde0"/><rect x="467.42" y="610.95" width="1" height="13.20" fill="#a0bde0"/><rect x="480.24" y="610.95" width="1" height="13.20" fill="#a0bde0"/><rect x="493.06" y="610.95" width="1" height="13.20" fill="#a0bde0"/><rect x="505.88" y="610.95" width="1" height="13.20" fill="#a0bde0"/><rect x="518.70" y="610.95" width="1" height="13.20" fill="#a0bde0"/><rect x="531.52" y="610.95" width="1" height="13.20" fill="#a0bde0"/><rect x="544.34" y="610.95" width="1" height="13.20" fill="#a0bde0"/><rect x="557.16" y="610.95" width="1" height="13.20" fill="#a0bde0"/><rect x="569.98" y="610.95" width="1" height="13.20" fill="#a0bde0"/><rect x="582.80" y="610.95" width="1" height="13.20" fill="#a0bde0"/><rect x="533.02" y="611.95" width="10.82" height="11.20" fill="#ff0505" stroke="#b80000" stroke-width="1.1"/><rect x="391.60" y="630.37" width="50.90" height="12.00" fill="#fff" stroke="#c2c2c2" stroke-width="1.2"/><rect x="595.10" y="630.37" width="51.70" height="12.00" fill="#fff" stroke="#c2c2c2" stroke-width="1.2"/><rect x="403.12" y="629.76" width="1.4" height="13.20" fill="#aaaaaa"/><rect x="415.94" y="629.76" width="1.4" height="13.20" fill="#aaaaaa"/><rect x="428.76" y="629.76" width="1.4" height="13.20" fill="#aaaaaa"/><rect x="608.24" y="629.76" width="1.4" height="13.20" fill="#aaaaaa"/><rect x="621.06" y="629.76" width="1.4" height="13.20" fill="#aaaaaa"/><rect x="633.88" y="629.76" width="1.4" height="13.20" fill="#aaaaaa"/><rect x="441.10" y="629.76" width="155.40" height="13.20" fill="#a9c9ee"/><rect x="454.60" y="629.76" width="1" height="13.20" fill="#a0bde0"/><rect x="467.42" y="629.76" width="1" height="13.20" fill="#a0bde0"/><rect x="480.24" y="629.76" width="1" height="13.20" fill="#a0bde0"/><rect x="493.06" y="629.76" width="1" height="13.20" fill="#a0bde0"/><rect x="505.88" y="629.76" width="1" height="13.20" fill="#a0bde0"/><rect x="518.70" y="629.76" width="1" height="13.20" fill="#a0bde0"/><rect x="531.52" y="629.76" width="1" height="13.20" fill="#a0bde0"/><rect x="544.34" y="629.76" width="1" height="13.20" fill="#a0bde0"/><rect x="557.16" y="629.76" width="1" height="13.20" fill="#a0bde0"/><rect x="569.98" y="629.76" width="1" height="13.20" fill="#a0bde0"/><rect x="582.80" y="629.76" width="1" height="13.20" fill="#a0bde0"/><rect x="635.58" y="630.76" width="10.82" height="11.20" fill="#ff0505" stroke="#b80000" stroke-width="1.1"/><rect x="391.60" y="649.18" width="50.90" height="12.00" fill="#fff" stroke="#c2c2c2" stroke-width="1.2"/><rect x="595.10" y="649.18" width="51.70" height="12.00" fill="#fff" stroke="#c2c2c2" stroke-width="1.2"/><rect x="403.12" y="648.58" width="1.4" height="13.20" fill="#aaaaaa"/><rect x="415.94" y="648.58" width="1.4" height="13.20" fill="#aaaaaa"/><rect x="428.76" y="648.58" width="1.4" height="13.20" fill="#aaaaaa"/><rect x="608.24" y="648.58" width="1.4" height="13.20" fill="#aaaaaa"/><rect x="621.06" y="648.58" width="1.4" height="13.20" fill="#aaaaaa"/><rect x="633.88" y="648.58" width="1.4" height="13.20" fill="#aaaaaa"/><rect x="441.10" y="648.58" width="155.40" height="13.20" fill="#a9c9ee"/><rect x="454.60" y="648.58" width="1" height="13.20" fill="#a0bde0"/><rect x="467.42" y="648.58" width="1" height="13.20" fill="#a0bde0"/><rect x="480.24" y="648.58" width="1" height="13.20" fill="#a0bde0"/><rect x="493.06" y="648.58" width="1" height="13.20" fill="#a0bde0"/><rect x="505.88" y="648.58" width="1" height="13.20" fill="#a0bde0"/><rect x="518.70" y="648.58" width="1" height="13.20" fill="#a0bde0"/><rect x="531.52" y="648.58" width="1" height="13.20" fill="#a0bde0"/><rect x="544.34" y="648.58" width="1" height="13.20" fill="#a0bde0"/><rect x="557.16" y="648.58" width="1" height="13.20" fill="#a0bde0"/><rect x="569.98" y="648.58" width="1" height="13.20" fill="#a0bde0"/><rect x="582.80" y="648.58" width="1" height="13.20" fill="#a0bde0"/><rect x="635.58" y="649.58" width="10.82" height="11.20" fill="#ff0505" stroke="#b80000" stroke-width="1.1"/><rect x="391.60" y="668.00" width="50.90" height="12.00" fill="#fff" stroke="#c2c2c2" stroke-width="1.2"/><rect x="595.10" y="668.00" width="51.70" height="12.00" fill="#fff" stroke="#c2c2c2" stroke-width="1.2"/><rect x="403.12" y="667.39" width="1.4" height="13.20" fill="#aaaaaa"/><rect x="415.94" y="667.39" width="1.4" height="13.20" fill="#aaaaaa"/><rect x="428.76" y="667.39" width="1.4" height="13.20" fill="#aaaaaa"/><rect x="608.24" y="667.39" width="1.4" height="13.20" fill="#aaaaaa"/><rect x="621.06" y="667.39" width="1.4" height="13.20" fill="#aaaaaa"/><rect x="633.88" y="667.39" width="1.4" height="13.20" fill="#aaaaaa"/><rect x="441.10" y="667.39" width="155.40" height="13.20" fill="#a9c9ee"/><rect x="454.60" y="667.39" width="1" height="13.20" fill="#a0bde0"/><rect x="467.42" y="667.39" width="1" height="13.20" fill="#a0bde0"/><rect x="480.24" y="667.39" width="1" height="13.20" fill="#a0bde0"/><rect x="493.06" y="667.39" width="1" height="13.20" fill="#a0bde0"/><rect x="505.88" y="667.39" width="1" height="13.20" fill="#a0bde0"/><rect x="518.70" y="667.39" width="1" height="13.20" fill="#a0bde0"/><rect x="531.52" y="667.39" width="1" height="13.20" fill="#a0bde0"/><rect x="544.34" y="667.39" width="1" height="13.20" fill="#a0bde0"/><rect x="557.16" y="667.39" width="1" height="13.20" fill="#a0bde0"/><rect x="569.98" y="667.39" width="1" height="13.20" fill="#a0bde0"/><rect x="582.80" y="667.39" width="1" height="13.20" fill="#a0bde0"/><rect x="635.58" y="668.39" width="10.82" height="11.20" fill="#ff0505" stroke="#b80000" stroke-width="1.1"/><rect x="391.60" y="686.81" width="50.90" height="12.00" fill="#fff" stroke="#c2c2c2" stroke-width="1.2"/><rect x="595.10" y="686.81" width="51.70" height="12.00" fill="#fff" stroke="#c2c2c2" stroke-width="1.2"/><rect x="403.12" y="686.21" width="1.4" height="13.20" fill="#aaaaaa"/><rect x="415.94" y="686.21" width="1.4" height="13.20" fill="#aaaaaa"/><rect x="428.76" y="686.21" width="1.4" height="13.20" fill="#aaaaaa"/><rect x="608.24" y="686.21" width="1.4" height="13.20" fill="#aaaaaa"/><rect x="621.06" y="686.21" width="1.4" height="13.20" fill="#aaaaaa"/><rect x="633.88" y="686.21" width="1.4" height="13.20" fill="#aaaaaa"/><rect x="441.10" y="686.21" width="155.40" height="13.20" fill="#a9c9ee"/><rect x="454.60" y="686.21" width="1" height="13.20" fill="#a0bde0"/><rect x="467.42" y="686.21" width="1" height="13.20" fill="#a0bde0"/><rect x="480.24" y="686.21" width="1" height="13.20" fill="#a0bde0"/><rect x="493.06" y="686.21" width="1" height="13.20" fill="#a0bde0"/><rect x="505.88" y="686.21" width="1" height="13.20" fill="#a0bde0"/><rect x="518.70" y="686.21" width="1" height="13.20" fill="#a0bde0"/><rect x="531.52" y="686.21" width="1" height="13.20" fill="#a0bde0"/><rect x="544.34" y="686.21" width="1" height="13.20" fill="#a0bde0"/><rect x="557.16" y="686.21" width="1" height="13.20" fill="#a0bde0"/><rect x="569.98" y="686.21" width="1" height="13.20" fill="#a0bde0"/><rect x="582.80" y="686.21" width="1" height="13.20" fill="#a0bde0"/><rect x="507.38" y="687.21" width="10.82" height="11.20" fill="#ff0505" stroke="#b80000" stroke-width="1.1"/><rect x="391.60" y="705.62" width="50.90" height="12.00" fill="#fff" stroke="#c2c2c2" stroke-width="1.2"/><rect x="595.10" y="705.62" width="51.70" height="12.00" fill="#fff" stroke="#c2c2c2" stroke-width="1.2"/><rect x="403.12" y="705.02" width="1.4" height="13.20" fill="#aaaaaa"/><rect x="415.94" y="705.02" width="1.4" height="13.20" fill="#aaaaaa"/><rect x="428.76" y="705.02" width="1.4" height="13.20" fill="#aaaaaa"/><rect x="608.24" y="705.02" width="1.4" height="13.20" fill="#aaaaaa"/><rect x="621.06" y="705.02" width="1.4" height="13.20" fill="#aaaaaa"/><rect x="633.88" y="705.02" width="1.4" height="13.20" fill="#aaaaaa"/><rect x="441.10" y="705.02" width="155.40" height="13.20" fill="#a9c9ee"/><rect x="454.60" y="705.02" width="1" height="13.20" fill="#a0bde0"/><rect x="467.42" y="705.02" width="1" height="13.20" fill="#a0bde0"/><rect x="480.24" y="705.02" width="1" height="13.20" fill="#a0bde0"/><rect x="493.06" y="705.02" width="1" height="13.20" fill="#a0bde0"/><rect x="505.88" y="705.02" width="1" height="13.20" fill="#a0bde0"/><rect x="518.70" y="705.02" width="1" height="13.20" fill="#a0bde0"/><rect x="531.52" y="705.02" width="1" height="13.20" fill="#a0bde0"/><rect x="544.34" y="705.02" width="1" height="13.20" fill="#a0bde0"/><rect x="557.16" y="705.02" width="1" height="13.20" fill="#a0bde0"/><rect x="569.98" y="705.02" width="1" height="13.20" fill="#a0bde0"/><rect x="582.80" y="705.02" width="1" height="13.20" fill="#a0bde0"/><rect x="520.20" y="706.02" width="10.82" height="11.20" fill="#ff0505" stroke="#b80000" stroke-width="1.1"/><rect x="391.60" y="724.44" width="50.90" height="12.00" fill="#fff" stroke="#c2c2c2" stroke-width="1.2"/><rect x="595.10" y="724.44" width="51.70" height="12.00" fill="#fff" stroke="#c2c2c2" stroke-width="1.2"/><rect x="403.12" y="723.84" width="1.4" height="13.20" fill="#aaaaaa"/><rect x="415.94" y="723.84" width="1.4" height="13.20" fill="#aaaaaa"/><rect x="428.76" y="723.84" width="1.4" height="13.20" fill="#aaaaaa"/><rect x="608.24" y="723.84" width="1.4" height="13.20" fill="#aaaaaa"/><rect x="621.06" y="723.84" width="1.4" height="13.20" fill="#aaaaaa"/><rect x="633.88" y="723.84" width="1.4" height="13.20" fill="#aaaaaa"/><rect x="441.10" y="723.84" width="155.40" height="13.20" fill="#a9c9ee"/><rect x="454.60" y="723.84" width="1" height="13.20" fill="#a0bde0"/><rect x="467.42" y="723.84" width="1" height="13.20" fill="#a0bde0"/><rect x="480.24" y="723.84" width="1" height="13.20" fill="#a0bde0"/><rect x="493.06" y="723.84" width="1" height="13.20" fill="#a0bde0"/><rect x="505.88" y="723.84" width="1" height="13.20" fill="#a0bde0"/><rect x="518.70" y="723.84" width="1" height="13.20" fill="#a0bde0"/><rect x="531.52" y="723.84" width="1" height="13.20" fill="#a0bde0"/><rect x="544.34" y="723.84" width="1" height="13.20" fill="#a0bde0"/><rect x="557.16" y="723.84" width="1" height="13.20" fill="#a0bde0"/><rect x="569.98" y="723.84" width="1" height="13.20" fill="#a0bde0"/><rect x="582.80" y="723.84" width="1" height="13.20" fill="#a0bde0"/><rect x="507.38" y="724.84" width="10.82" height="11.20" fill="#ff0505" stroke="#b80000" stroke-width="1.1"/><rect x="391.60" y="743.25" width="50.90" height="12.00" fill="#fff" stroke="#c2c2c2" stroke-width="1.2"/><rect x="595.10" y="743.25" width="51.70" height="12.00" fill="#fff" stroke="#c2c2c2" stroke-width="1.2"/><rect x="403.12" y="742.65" width="1.4" height="13.20" fill="#aaaaaa"/><rect x="415.94" y="742.65" width="1.4" height="13.20" fill="#aaaaaa"/><rect x="428.76" y="742.65" width="1.4" height="13.20" fill="#aaaaaa"/><rect x="608.24" y="742.65" width="1.4" height="13.20" fill="#aaaaaa"/><rect x="621.06" y="742.65" width="1.4" height="13.20" fill="#aaaaaa"/><rect x="633.88" y="742.65" width="1.4" height="13.20" fill="#aaaaaa"/><rect x="441.10" y="742.65" width="155.40" height="13.20" fill="#a9c9ee"/><rect x="454.60" y="742.65" width="1" height="13.20" fill="#a0bde0"/><rect x="467.42" y="742.65" width="1" height="13.20" fill="#a0bde0"/><rect x="480.24" y="742.65" width="1" height="13.20" fill="#a0bde0"/><rect x="493.06" y="742.65" width="1" height="13.20" fill="#a0bde0"/><rect x="505.88" y="742.65" width="1" height="13.20" fill="#a0bde0"/><rect x="518.70" y="742.65" width="1" height="13.20" fill="#a0bde0"/><rect x="531.52" y="742.65" width="1" height="13.20" fill="#a0bde0"/><rect x="544.34" y="742.65" width="1" height="13.20" fill="#a0bde0"/><rect x="557.16" y="742.65" width="1" height="13.20" fill="#a0bde0"/><rect x="569.98" y="742.65" width="1" height="13.20" fill="#a0bde0"/><rect x="582.80" y="742.65" width="1" height="13.20" fill="#a0bde0"/><rect x="404.82" y="743.65" width="10.82" height="11.20" fill="#ff0505" stroke="#b80000" stroke-width="1.1"/><rect x="391.60" y="799.70" width="50.90" height="12.00" fill="#fff" stroke="#c2c2c2" stroke-width="1.2"/><rect x="595.10" y="799.70" width="51.70" height="12.00" fill="#fff" stroke="#c2c2c2" stroke-width="1.2"/><rect x="403.12" y="799.10" width="1.4" height="13.20" fill="#aaaaaa"/><rect x="415.94" y="799.10" width="1.4" height="13.20" fill="#aaaaaa"/><rect x="428.76" y="799.10" width="1.4" height="13.20" fill="#aaaaaa"/><rect x="608.24" y="799.10" width="1.4" height="13.20" fill="#aaaaaa"/><rect x="621.06" y="799.10" width="1.4" height="13.20" fill="#aaaaaa"/><rect x="633.88" y="799.10" width="1.4" height="13.20" fill="#aaaaaa"/><rect x="441.10" y="799.10" width="155.40" height="13.20" fill="#a9c9ee"/><rect x="454.60" y="799.10" width="1" height="13.20" fill="#a0bde0"/><rect x="467.42" y="799.10" width="1" height="13.20" fill="#a0bde0"/><rect x="480.24" y="799.10" width="1" height="13.20" fill="#a0bde0"/><rect x="493.06" y="799.10" width="1" height="13.20" fill="#a0bde0"/><rect x="505.88" y="799.10" width="1" height="13.20" fill="#a0bde0"/><rect x="518.70" y="799.10" width="1" height="13.20" fill="#a0bde0"/><rect x="531.52" y="799.10" width="1" height="13.20" fill="#a0bde0"/><rect x="544.34" y="799.10" width="1" height="13.20" fill="#a0bde0"/><rect x="557.16" y="799.10" width="1" height="13.20" fill="#a0bde0"/><rect x="569.98" y="799.10" width="1" height="13.20" fill="#a0bde0"/><rect x="582.80" y="799.10" width="1" height="13.20" fill="#a0bde0"/><rect x="507.38" y="800.10" width="10.82" height="11.20" fill="#ff0505" stroke="#b80000" stroke-width="1.1"/><rect x="391.60" y="837.33" width="50.90" height="12.00" fill="#fff" stroke="#c2c2c2" stroke-width="1.2"/><rect x="595.10" y="837.33" width="51.70" height="12.00" fill="#fff" stroke="#c2c2c2" stroke-width="1.2"/><rect x="403.12" y="836.73" width="1.4" height="13.20" fill="#aaaaaa"/><rect x="415.94" y="836.73" width="1.4" height="13.20" fill="#aaaaaa"/><rect x="428.76" y="836.73" width="1.4" height="13.20" fill="#aaaaaa"/><rect x="608.24" y="836.73" width="1.4" height="13.20" fill="#aaaaaa"/><rect x="621.06" y="836.73" width="1.4" height="13.20" fill="#aaaaaa"/><rect x="633.88" y="836.73" width="1.4" height="13.20" fill="#aaaaaa"/><rect x="441.10" y="836.73" width="155.40" height="13.20" fill="#a9c9ee"/><rect x="454.60" y="836.73" width="1" height="13.20" fill="#a0bde0"/><rect x="467.42" y="836.73" width="1" height="13.20" fill="#a0bde0"/><rect x="480.24" y="836.73" width="1" height="13.20" fill="#a0bde0"/><rect x="493.06" y="836.73" width="1" height="13.20" fill="#a0bde0"/><rect x="505.88" y="836.73" width="1" height="13.20" fill="#a0bde0"/><rect x="518.70" y="836.73" width="1" height="13.20" fill="#a0bde0"/><rect x="531.52" y="836.73" width="1" height="13.20" fill="#a0bde0"/><rect x="544.34" y="836.73" width="1" height="13.20" fill="#a0bde0"/><rect x="557.16" y="836.73" width="1" height="13.20" fill="#a0bde0"/><rect x="569.98" y="836.73" width="1" height="13.20" fill="#a0bde0"/><rect x="582.80" y="836.73" width="1" height="13.20" fill="#a0bde0"/><rect x="456.10" y="837.73" width="10.82" height="11.20" fill="#ff0505" stroke="#b80000" stroke-width="1.1"/><path transform="translate(52.50,7.60) scale(1.0,1.0)" d="M2.5,0.3H4.3 M0.3,1.5H5.6 M2.95,2.2 m-1.95,1.35 a1.95,1.35 0 1,0 3.9,0 a1.95,1.35 0 1,0 -3.9,0 M7.6,0V6.5 M5.7,2.4H7.6 M5.7,4.5H7.6 M1.4,7.3H7.8V9H1.5V10.7H8.2" fill="none" stroke="#262626" stroke-width="1.5" stroke-linecap="butt" stroke-linejoin="miter"/><path transform="translate(62.80,7.60) scale(1.0,1.0)" d="M2.6,3.6 m-2,0 a2,2.6 0 1,0 4,0 a2,2.6 0 1,0 -4,0 M5.9,0.3V6.8 M5.9,3.5H8 M8.1,0V7.3 M1.5,8.3H8.1V11" fill="none" stroke="#262626" stroke-width="1.5" stroke-linecap="butt" stroke-linejoin="miter"/><path transform="translate(73.10,7.60) scale(1.0,1.0)" d="M0.4,0.9H4.9C4.9,3.2 3.9,4.8 0.9,5.8 M8.3,0V6.8 M6.1,3.2H8.3 M1.9,7.8H8.3V10.8H1.9Z" fill="none" stroke="#262626" stroke-width="1.5" stroke-linecap="butt" stroke-linejoin="miter"/><path transform="translate(83.90,7.60) scale(1.0,1.0)" d="M3,0.3V3.4C2.8,5.6 1.6,7.2 0.2,8.1 M3,3.6C3.4,5.5 4.3,6.8 5.4,7.6 M7.4,0V11 M7.4,4.4H9.2" fill="none" stroke="#262626" stroke-width="1.5" stroke-linecap="butt" stroke-linejoin="miter"/><path transform="translate(103.60,7.60) scale(1.0,1.0)" d="M2.9,3.2 m-2.2,0 a2.2,2.4 0 1,0 4.4,0 a2.2,2.4 0 1,0 -4.4,0 M8,0V6.6 M1.3,7.3H8V9H1.4V10.7H8.4" fill="none" stroke="#262626" stroke-width="1.5" stroke-linecap="butt" stroke-linejoin="miter"/><path transform="translate(113.10,7.60) scale(1.0,1.0)" d="M0.6,0.3V5.8H5V0.3 M0.6,2.9H5 M6.8,0V7.2 M6.8,3.4H8.8 M1.2,7.4V10.6H9.4" fill="none" stroke="#262626" stroke-width="1.5" stroke-linecap="butt" stroke-linejoin="miter"/><rect x="96.2" y="14.35" width="2.8" height="1.5" fill="#262626"/><path transform="translate(51.20,378.80) scale(1.0,1.0)" d="M2.5,0.3H4.3 M0.3,1.5H5.6 M2.95,2.2 m-1.95,1.35 a1.95,1.35 0 1,0 3.9,0 a1.95,1.35 0 1,0 -3.9,0 M7.6,0V6.5 M5.7,2.4H7.6 M5.7,4.5H7.6 M1.4,7.3H7.8V9H1.5V10.7H8.2" fill="none" stroke="#262626" stroke-width="1.4" stroke-linecap="butt" stroke-linejoin="miter"/><path transform="translate(62.40,378.80) scale(1.0,1.0)" d="M2.6,3.6 m-2,0 a2,2.6 0 1,0 4,0 a2,2.6 0 1,0 -4,0 M5.9,0.3V6.8 M5.9,3.5H8 M8.1,0V7.3 M1.5,8.3H8.1V11" fill="none" stroke="#262626" stroke-width="1.4" stroke-linecap="butt" stroke-linejoin="miter"/><path transform="translate(73.40,378.80) scale(1.0,1.0)" d="M2.5,0.3H4.3 M0.3,1.5H5.8 M3.05,2.3 m-2,1.4 a2,1.4 0 1,0 4,0 a2,1.4 0 1,0 -4,0 M7.3,0V6.9 M7.3,3.4H9 M1.3,8.3H7.7V11" fill="none" stroke="#262626" stroke-width="1.4" stroke-linecap="butt" stroke-linejoin="miter"/><path transform="translate(84.30,378.80) scale(1.0,1.0)" d="M0.4,0.9H4.9C4.9,3.2 3.9,4.8 0.9,5.8 M8.3,0V6.8 M6.1,3.2H8.3 M1.9,7.8H8.3V10.8H1.9Z" fill="none" stroke="#262626" stroke-width="1.4" stroke-linecap="butt" stroke-linejoin="miter"/><path transform="translate(95.20,378.80) scale(1.0,1.0)" d="M3,0.3V3.4C2.8,5.6 1.6,7.2 0.2,8.1 M3,3.6C3.4,5.5 4.3,6.8 5.4,7.6 M7.4,0V11 M7.4,4.4H9.2" fill="none" stroke="#262626" stroke-width="1.4" stroke-linecap="butt" stroke-linejoin="miter"/><rect x="105.0" y="385.0" width="3.0" height="1.5" fill="#262626"/>
</svg>
<div class="t" style="left:54.20px;top:27.52px;font-weight:bold;color:#1a1a1a;transform:scale(1.0,1.05);transform-origin:left 13.28px;">Name</div><div class="t" style="right:489.50px;top:27.52px;font-weight:bold;color:#1a1a1a;transform:scale(1.0,1.05);transform-origin:right 13.28px;">Reference</div><div class="t" style="right:386.20px;top:27.52px;font-weight:bold;color:#1a1a1a;transform:scale(1.0,1.05);transform-origin:right 13.28px;">Result</div><div class="t" style="right:356.80px;top:27.52px;font-weight:bold;color:#1a1a1a;transform:scale(1.0,1.05);transform-origin:right 13.28px;">Unit</div><div class="t" style="left:53.80px;top:48.42px;color:#1a1a1a;transform:scale(0.965,1.05);transform-origin:left 13.28px;">Albumin</div><div class="t" style="right:489.50px;top:48.42px;color:#1a1a1a;transform:scale(0.965,1.05);transform-origin:right 13.28px;">2.6 - 4.6</div><div class="t" style="right:386.20px;top:48.42px;font-weight:bold;color:#1a1a1a;transform:scale(0.955,1.05);transform-origin:right 13.28px;">3.5</div><div class="t" style="right:356.80px;top:48.42px;color:#1a1a1a;transform:scale(0.94,1.05);transform-origin:right 13.28px;">g/dl</div><div class="t" style="left:53.80px;top:67.29px;color:#1a1a1a;transform:scale(0.965,1.05);transform-origin:left 13.28px;">T.Protein</div><div class="t" style="right:489.50px;top:67.29px;color:#1a1a1a;transform:scale(0.965,1.05);transform-origin:right 13.28px;">5.2 - 8.2</div><div class="t" style="right:386.20px;top:67.29px;font-weight:bold;color:#1a1a1a;transform:scale(0.955,1.05);transform-origin:right 13.28px;">6.8</div><div class="t" style="right:356.80px;top:67.29px;color:#1a1a1a;transform:scale(0.94,1.05);transform-origin:right 13.28px;">g/dl</div><div class="t" style="left:53.80px;top:86.16px;color:#1a1a1a;transform:scale(0.965,1.05);transform-origin:left 13.28px;">Glucose</div><div class="t" style="right:489.50px;top:86.16px;color:#1a1a1a;transform:scale(0.965,1.05);transform-origin:right 13.28px;">70 - 110</div><div class="t" style="right:386.20px;top:86.16px;font-weight:bold;color:#1a1a1a;transform:scale(0.955,1.05);transform-origin:right 13.28px;">109</div><div class="t" style="right:356.80px;top:86.16px;color:#1a1a1a;transform:scale(0.94,1.05);transform-origin:right 13.28px;">mg/dl</div><div class="t" style="left:53.80px;top:105.03px;color:#1a1a1a;transform:scale(0.965,1.05);transform-origin:left 13.28px;">ALP</div><div class="t" style="right:489.50px;top:105.03px;color:#1a1a1a;transform:scale(0.965,1.05);transform-origin:right 13.28px;">0 - 212</div><div class="t" style="right:386.20px;top:105.03px;font-weight:bold;color:#1a1a1a;transform:scale(0.955,1.05);transform-origin:right 13.28px;">23</div><div class="t" style="right:356.80px;top:105.03px;color:#1a1a1a;transform:scale(0.94,1.05);transform-origin:right 13.28px;">U/L</div><div class="t" style="left:53.80px;top:123.90px;color:#1a1a1a;transform:scale(0.965,1.05);transform-origin:left 13.28px;">ALT/GPT</div><div class="t" style="right:489.50px;top:123.90px;color:#1a1a1a;transform:scale(0.965,1.05);transform-origin:right 13.28px;">0 - 88</div><div class="t" style="right:386.20px;top:123.90px;font-weight:bold;color:#1a1a1a;transform:scale(0.955,1.05);transform-origin:right 13.28px;">52</div><div class="t" style="right:356.80px;top:123.90px;color:#1a1a1a;transform:scale(0.94,1.05);transform-origin:right 13.28px;">U/L</div><div class="t" style="left:53.80px;top:142.77px;color:#1a1a1a;transform:scale(0.965,1.05);transform-origin:left 13.28px;">T.Bilirubin</div><div class="t" style="right:489.50px;top:142.77px;color:#1a1a1a;transform:scale(0.965,1.05);transform-origin:right 13.28px;">0.0 - 0.9</div><div class="t" style="right:356.80px;top:142.77px;color:#1a1a1a;transform:scale(0.94,1.05);transform-origin:right 13.28px;">mg/dl</div><div class="t" style="left:53.80px;top:161.64px;color:#1a1a1a;transform:scale(0.965,1.05);transform-origin:left 13.28px;">Amylase</div><div class="t" style="right:489.50px;top:161.64px;color:#1a1a1a;transform:scale(0.965,1.05);transform-origin:right 13.28px;">400 - 1500</div><div class="t" style="right:356.80px;top:161.64px;color:#1a1a1a;transform:scale(0.94,1.05);transform-origin:right 13.28px;">U/L</div><div class="t" style="left:53.80px;top:180.51px;color:#1a1a1a;transform:scale(0.965,1.05);transform-origin:left 13.28px;">BUN</div><div class="t" style="right:489.50px;top:180.51px;color:#1a1a1a;transform:scale(0.965,1.05);transform-origin:right 13.28px;">6.0 - 26.0</div><div class="t" style="right:386.20px;top:180.51px;font-weight:bold;color:#e01b22;transform:scale(0.955,1.05);transform-origin:right 13.28px;">29.2</div><div class="t" style="right:356.80px;top:180.51px;color:#1a1a1a;transform:scale(0.94,1.05);transform-origin:right 13.28px;">mg/dl</div><div class="t" style="left:53.80px;top:199.38px;color:#1a1a1a;transform:scale(0.965,1.05);transform-origin:left 13.28px;">Creatiine</div><div class="t" style="right:489.50px;top:199.38px;color:#1a1a1a;transform:scale(0.965,1.05);transform-origin:right 13.28px;">0.4 - 1.6</div><div class="t" style="right:386.20px;top:199.38px;font-weight:bold;color:#1a1a1a;transform:scale(0.955,1.05);transform-origin:right 13.28px;">0.91</div><div class="t" style="right:356.80px;top:199.38px;color:#1a1a1a;transform:scale(0.94,1.05);transform-origin:right 13.28px;">mg/dl</div><div class="t" style="left:53.80px;top:218.25px;color:#1a1a1a;transform:scale(0.965,1.05);transform-origin:left 13.28px;">Ca</div><div class="t" style="right:489.50px;top:218.25px;color:#1a1a1a;transform:scale(0.965,1.05);transform-origin:right 13.28px;">7.9 - 12.0</div><div class="t" style="right:356.80px;top:218.25px;color:#1a1a1a;transform:scale(0.94,1.05);transform-origin:right 13.28px;">mg/dl</div><div class="t" style="left:53.80px;top:237.12px;color:#1a1a1a;transform:scale(0.965,1.05);transform-origin:left 13.28px;">Phosphorus(P)</div><div class="t" style="right:489.50px;top:237.12px;color:#1a1a1a;transform:scale(0.965,1.05);transform-origin:right 13.28px;">2.5 - 6.8</div><div class="t" style="right:356.80px;top:237.12px;color:#1a1a1a;transform:scale(0.94,1.05);transform-origin:right 13.28px;">mg/dl</div><div class="t" style="left:53.80px;top:255.99px;color:#1a1a1a;transform:scale(0.965,1.05);transform-origin:left 13.28px;">Na</div><div class="t" style="right:489.50px;top:255.99px;color:#1a1a1a;transform:scale(0.965,1.05);transform-origin:right 13.28px;">138 - 160</div><div class="t" style="right:356.80px;top:255.99px;color:#1a1a1a;transform:scale(0.94,1.05);transform-origin:right 13.28px;">mEq/l</div><div class="t" style="left:53.80px;top:274.86px;color:#1a1a1a;transform:scale(0.965,1.05);transform-origin:left 13.28px;">K</div><div class="t" style="right:489.50px;top:274.86px;color:#1a1a1a;transform:scale(0.965,1.05);transform-origin:right 13.28px;">3.5 - 5.8</div><div class="t" style="right:356.80px;top:274.86px;color:#1a1a1a;transform:scale(0.94,1.05);transform-origin:right 13.28px;">mEq/l</div><div class="t" style="left:53.80px;top:293.73px;color:#1a1a1a;transform:scale(0.965,1.05);transform-origin:left 13.28px;">Globulin</div><div class="t" style="right:489.50px;top:293.73px;color:#1a1a1a;transform:scale(0.965,1.05);transform-origin:right 13.28px;">2.5 - 4.5</div><div class="t" style="right:386.20px;top:293.73px;font-weight:bold;color:#1a1a1a;transform:scale(0.955,1.05);transform-origin:right 13.28px;">3.3</div><div class="t" style="right:356.80px;top:293.73px;color:#1a1a1a;transform:scale(0.94,1.05);transform-origin:right 13.28px;">g/dl</div><div class="t" style="left:53.80px;top:312.60px;color:#1a1a1a;transform:scale(0.965,1.05);transform-origin:left 13.28px;">A/G ratio</div><div class="t" style="right:386.20px;top:312.60px;font-weight:bold;color:#1a1a1a;transform:scale(0.955,1.05);transform-origin:right 13.28px;">1.1</div><div class="t" style="right:356.80px;top:312.60px;color:#1a1a1a;transform:scale(0.94,1.05);transform-origin:right 13.28px;">ratio</div><div class="t" style="left:53.80px;top:331.47px;color:#1a1a1a;transform:scale(0.965,1.05);transform-origin:left 13.28px;">BUN/CREA ratio</div><div class="t" style="right:386.20px;top:331.47px;font-weight:bold;color:#1a1a1a;transform:scale(0.955,1.05);transform-origin:right 13.28px;">32.1</div><div class="t" style="right:356.80px;top:331.47px;color:#1a1a1a;transform:scale(0.94,1.05);transform-origin:right 13.28px;">ratio</div><div class="t" style="left:53.80px;top:350.34px;color:#1a1a1a;transform:scale(0.965,1.05);transform-origin:left 13.28px;">Na/K ratio</div><div class="t" style="right:356.80px;top:350.34px;color:#1a1a1a;transform:scale(0.94,1.05);transform-origin:right 13.28px;">ratio</div><div class="t" style="left:54.20px;top:399.02px;font-weight:bold;color:#1a1a1a;transform:scale(1.0,1.05);transform-origin:left 13.28px;">Name</div><div class="t" style="right:489.50px;top:399.02px;font-weight:bold;color:#1a1a1a;transform:scale(1.0,1.05);transform-origin:right 13.28px;">Reference</div><div class="t" style="right:386.20px;top:399.02px;font-weight:bold;color:#1a1a1a;transform:scale(1.0,1.05);transform-origin:right 13.28px;">Result</div><div class="t" style="right:356.80px;top:399.02px;font-weight:bold;color:#1a1a1a;transform:scale(1.0,1.05);transform-origin:right 13.28px;">Unit</div><div class="t" style="left:53.80px;top:419.42px;color:#1a1a1a;transform:scale(0.965,1.05);transform-origin:left 13.28px;">WBC</div><div class="t" style="right:489.50px;top:419.42px;color:#1a1a1a;transform:scale(0.965,1.05);transform-origin:right 13.28px;">6.0 - 17.0</div><div class="t" style="right:386.20px;top:419.42px;font-weight:bold;color:#1a1a1a;transform:scale(0.955,1.05);transform-origin:right 13.28px;">9.9</div><div class="t" style="right:356.80px;top:419.42px;color:#1a1a1a;transform:scale(0.94,1.05);transform-origin:right 13.28px;">K/uL</div><div class="t" style="left:53.80px;top:438.23px;color:#1a1a1a;transform:scale(0.965,1.05);transform-origin:left 13.28px;">NE(#)</div><div class="t" style="right:489.50px;top:438.23px;color:#1a1a1a;transform:scale(0.965,1.05);transform-origin:right 13.28px;">3 - 11.8</div><div class="t" style="right:356.80px;top:438.23px;color:#1a1a1a;transform:scale(0.94,1.05);transform-origin:right 13.28px;">K/uL</div><div class="t" style="left:53.80px;top:457.05px;color:#1a1a1a;transform:scale(0.965,1.05);transform-origin:left 13.28px;">LY(#)</div><div class="t" style="right:489.50px;top:457.05px;color:#1a1a1a;transform:scale(0.965,1.05);transform-origin:right 13.28px;">0.8 - 5.1</div><div class="t" style="right:386.20px;top:457.05px;font-weight:bold;color:#1a1a1a;transform:scale(0.955,1.05);transform-origin:right 13.28px;">2.1</div><div class="t" style="right:356.80px;top:457.05px;color:#1a1a1a;transform:scale(0.94,1.05);transform-origin:right 13.28px;">K/uL</div><div class="t" style="left:53.80px;top:475.86px;color:#1a1a1a;transform:scale(0.965,1.05);transform-origin:left 13.28px;">MO(#)</div><div class="t" style="right:489.50px;top:475.86px;color:#1a1a1a;transform:scale(0.965,1.05);transform-origin:right 13.28px;">0.0 - 1.8</div><div class="t" style="right:386.20px;top:475.86px;font-weight:bold;color:#1a1a1a;transform:scale(0.955,1.05);transform-origin:right 13.28px;">0.3</div><div class="t" style="right:356.80px;top:475.86px;color:#1a1a1a;transform:scale(0.94,1.05);transform-origin:right 13.28px;">K/uL</div><div class="t" style="left:53.80px;top:494.68px;color:#1a1a1a;transform:scale(0.965,1.05);transform-origin:left 13.28px;">BA(#)</div><div class="t" style="right:489.50px;top:494.68px;color:#1a1a1a;transform:scale(0.965,1.05);transform-origin:right 13.28px;">4.0 - 12.6</div><div class="t" style="right:386.20px;top:494.68px;font-weight:bold;color:#1a1a1a;transform:scale(0.955,1.05);transform-origin:right 13.28px;">7.5</div><div class="t" style="right:356.80px;top:494.68px;color:#1a1a1a;transform:scale(0.94,1.05);transform-origin:right 13.28px;">K/uL</div><div class="t" style="left:53.80px;top:513.49px;color:#1a1a1a;transform:scale(0.965,1.05);transform-origin:left 13.28px;">NRBC(#)</div><div class="t" style="right:489.50px;top:513.49px;color:#1a1a1a;transform:scale(0.965,1.05);transform-origin:right 13.28px;">RARE - </div><div class="t" style="right:356.80px;top:513.49px;color:#1a1a1a;transform:scale(0.94,1.05);transform-origin:right 13.28px;">K/uL</div><div class="t" style="left:53.80px;top:532.31px;color:#1a1a1a;transform:scale(0.965,1.05);transform-origin:left 13.28px;">NE(%)</div><div class="t" style="right:489.50px;top:532.31px;color:#1a1a1a;transform:scale(0.965,1.05);transform-origin:right 13.28px;">60 - 80</div><div class="t" style="right:356.80px;top:532.31px;color:#1a1a1a;transform:scale(0.94,1.05);transform-origin:right 13.28px;">%</div><div class="t" style="left:53.80px;top:551.12px;color:#1a1a1a;transform:scale(0.965,1.05);transform-origin:left 13.28px;">LY(%)</div><div class="t" style="right:489.50px;top:551.12px;color:#1a1a1a;transform:scale(0.965,1.05);transform-origin:right 13.28px;">12.0 - 30.0</div><div class="t" style="right:386.20px;top:551.12px;font-weight:bold;color:#1a1a1a;transform:scale(0.955,1.05);transform-origin:right 13.28px;">21.6</div><div class="t" style="right:356.80px;top:551.12px;color:#1a1a1a;transform:scale(0.94,1.05);transform-origin:right 13.28px;">%</div><div class="t" style="left:53.80px;top:569.94px;color:#1a1a1a;transform:scale(0.965,1.05);transform-origin:left 13.28px;">MO(%)</div><div class="t" style="right:489.50px;top:569.94px;color:#1a1a1a;transform:scale(0.965,1.05);transform-origin:right 13.28px;">2.0 - 9.0</div><div class="t" style="right:386.20px;top:569.94px;font-weight:bold;color:#1a1a1a;transform:scale(0.955,1.05);transform-origin:right 13.28px;">3.2</div><div class="t" style="right:356.80px;top:569.94px;color:#1a1a1a;transform:scale(0.94,1.05);transform-origin:right 13.28px;">%</div><div class="t" style="left:53.80px;top:588.75px;color:#1a1a1a;transform:scale(0.965,1.05);transform-origin:left 13.28px;">EO(%)</div><div class="t" style="right:489.50px;top:588.75px;color:#1a1a1a;transform:scale(0.965,1.05);transform-origin:right 13.28px;">2 - 10</div><div class="t" style="right:356.80px;top:588.75px;color:#1a1a1a;transform:scale(0.94,1.05);transform-origin:right 13.28px;">%</div><div class="t" style="left:53.80px;top:607.57px;color:#1a1a1a;transform:scale(0.965,1.05);transform-origin:left 13.28px;">BA(%)</div><div class="t" style="right:489.50px;top:607.57px;color:#1a1a1a;transform:scale(0.965,1.05);transform-origin:right 13.28px;">60.0 - 83.0</div><div class="t" style="right:386.20px;top:607.57px;font-weight:bold;color:#1a1a1a;transform:scale(0.955,1.05);transform-origin:right 13.28px;">75.2</div><div class="t" style="right:356.80px;top:607.57px;color:#1a1a1a;transform:scale(0.94,1.05);transform-origin:right 13.28px;">%</div><div class="t" style="left:53.80px;top:626.38px;color:#1a1a1a;transform:scale(0.965,1.05);transform-origin:left 13.28px;">RBC</div><div class="t" style="right:489.50px;top:626.38px;color:#1a1a1a;transform:scale(0.965,1.05);transform-origin:right 13.28px;">5.50 - 8.50</div><div class="t" style="right:386.20px;top:626.38px;font-weight:bold;color:#e01b22;transform:scale(0.955,1.05);transform-origin:right 13.28px;">9.38</div><div class="t" style="right:356.80px;top:626.38px;color:#1a1a1a;transform:scale(0.94,1.05);transform-origin:right 13.28px;">M/uL</div><div class="t" style="left:53.80px;top:645.20px;color:#1a1a1a;transform:scale(0.965,1.05);transform-origin:left 13.28px;">Hb</div><div class="t" style="right:489.50px;top:645.20px;color:#1a1a1a;transform:scale(0.965,1.05);transform-origin:right 13.28px;">11.0 - 19.0</div><div class="t" style="right:386.20px;top:645.20px;font-weight:bold;color:#e01b22;transform:scale(0.955,1.05);transform-origin:right 13.28px;">21.3</div><div class="t" style="right:356.80px;top:645.20px;color:#1a1a1a;transform:scale(0.94,1.05);transform-origin:right 13.28px;">G/DL</div><div class="t" style="left:53.80px;top:664.01px;color:#1a1a1a;transform:scale(0.965,1.05);transform-origin:left 13.28px;">HCT</div><div class="t" style="right:489.50px;top:664.01px;color:#1a1a1a;transform:scale(0.965,1.05);transform-origin:right 13.28px;">39.0 - 56.0</div><div class="t" style="right:386.20px;top:664.01px;font-weight:bold;color:#e01b22;transform:scale(0.955,1.05);transform-origin:right 13.28px;">62.7</div><div class="t" style="right:356.80px;top:664.01px;color:#1a1a1a;transform:scale(0.94,1.05);transform-origin:right 13.28px;">%</div><div class="t" style="left:53.80px;top:682.83px;color:#1a1a1a;transform:scale(0.965,1.05);transform-origin:left 13.28px;">MCV</div><div class="t" style="right:489.50px;top:682.83px;color:#1a1a1a;transform:scale(0.965,1.05);transform-origin:right 13.28px;">62.0 - 72.0</div><div class="t" style="right:386.20px;top:682.83px;font-weight:bold;color:#1a1a1a;transform:scale(0.955,1.05);transform-origin:right 13.28px;">66.9</div><div class="t" style="right:356.80px;top:682.83px;color:#1a1a1a;transform:scale(0.94,1.05);transform-origin:right 13.28px;">fL</div><div class="t" style="left:53.80px;top:701.64px;color:#1a1a1a;transform:scale(0.965,1.05);transform-origin:left 13.28px;">MCH</div><div class="t" style="right:489.50px;top:701.64px;color:#1a1a1a;transform:scale(0.965,1.05);transform-origin:right 13.28px;">20.0 - 25.0</div><div class="t" style="right:386.20px;top:701.64px;font-weight:bold;color:#1a1a1a;transform:scale(0.955,1.05);transform-origin:right 13.28px;">22.7</div><div class="t" style="right:356.80px;top:701.64px;color:#1a1a1a;transform:scale(0.94,1.05);transform-origin:right 13.28px;">pg</div><div class="t" style="left:53.80px;top:720.46px;color:#1a1a1a;transform:scale(0.965,1.05);transform-origin:left 13.28px;">MCHC</div><div class="t" style="right:489.50px;top:720.46px;color:#1a1a1a;transform:scale(0.965,1.05);transform-origin:right 13.28px;">30.0 - 38.0</div><div class="t" style="right:386.20px;top:720.46px;font-weight:bold;color:#1a1a1a;transform:scale(0.955,1.05);transform-origin:right 13.28px;">33.9</div><div class="t" style="right:356.80px;top:720.46px;color:#1a1a1a;transform:scale(0.94,1.05);transform-origin:right 13.28px;">g/dL</div><div class="t" style="left:53.80px;top:739.27px;color:#1a1a1a;transform:scale(0.965,1.05);transform-origin:left 13.28px;">RDW</div><div class="t" style="right:489.50px;top:739.27px;color:#1a1a1a;transform:scale(0.965,1.05);transform-origin:right 13.28px;">11.0 - 15.5</div><div class="t" style="right:386.20px;top:739.27px;font-weight:bold;color:#e01b22;transform:scale(0.955,1.05);transform-origin:right 13.28px;">10.1</div><div class="t" style="right:356.80px;top:739.27px;color:#1a1a1a;transform:scale(0.94,1.05);transform-origin:right 13.28px;">%</div><div class="t" style="left:53.80px;top:758.09px;color:#1a1a1a;transform:scale(0.965,1.05);transform-origin:left 13.28px;">RSD</div><div class="t" style="right:386.20px;top:758.09px;font-weight:bold;color:#1a1a1a;transform:scale(0.955,1.05);transform-origin:right 13.28px;">41.4</div><div class="t" style="right:356.80px;top:758.09px;color:#1a1a1a;transform:scale(0.94,1.05);transform-origin:right 13.28px;">fL</div><div class="t" style="left:53.80px;top:776.90px;color:#1a1a1a;transform:scale(0.965,1.05);transform-origin:left 13.28px;">RECTICS(%)</div><div class="t" style="right:356.80px;top:776.90px;color:#1a1a1a;transform:scale(0.94,1.05);transform-origin:right 13.28px;">%</div><div class="t" style="left:53.80px;top:795.72px;color:#1a1a1a;transform:scale(0.965,1.05);transform-origin:left 13.28px;">PLT</div><div class="t" style="right:489.50px;top:795.72px;color:#1a1a1a;transform:scale(0.965,1.05);transform-origin:right 13.28px;">117 - 460</div><div class="t" style="right:386.20px;top:795.72px;font-weight:bold;color:#1a1a1a;transform:scale(0.955,1.05);transform-origin:right 13.28px;">287</div><div class="t" style="right:356.80px;top:795.72px;color:#1a1a1a;transform:scale(0.94,1.05);transform-origin:right 13.28px;">K/uL</div><div class="t" style="left:53.80px;top:814.53px;color:#1a1a1a;transform:scale(0.965,1.05);transform-origin:left 13.28px;">PCT</div><div class="t" style="right:386.20px;top:814.53px;font-weight:bold;color:#1a1a1a;transform:scale(0.955,1.05);transform-origin:right 13.28px;">0.21</div><div class="t" style="right:356.80px;top:814.53px;color:#1a1a1a;transform:scale(0.94,1.05);transform-origin:right 13.28px;">%</div><div class="t" style="left:53.80px;top:833.35px;color:#1a1a1a;transform:scale(0.965,1.05);transform-origin:left 13.28px;">MPV</div><div class="t" style="right:489.50px;top:833.35px;color:#1a1a1a;transform:scale(0.965,1.05);transform-origin:right 13.28px;">7.0 - 12.0</div><div class="t" style="right:386.20px;top:833.35px;font-weight:bold;color:#1a1a1a;transform:scale(0.955,1.05);transform-origin:right 13.28px;">7.5</div><div class="t" style="right:356.80px;top:833.35px;color:#1a1a1a;transform:scale(0.94,1.05);transform-origin:right 13.28px;">fL</div><div class="t" style="left:53.80px;top:852.16px;color:#1a1a1a;transform:scale(0.965,1.05);transform-origin:left 13.28px;">PDW</div><div class="t" style="right:386.20px;top:852.16px;font-weight:bold;color:#1a1a1a;transform:scale(0.955,1.05);transform-origin:right 13.28px;">10.8</div><div class="t" style="right:356.80px;top:852.16px;color:#1a1a1a;transform:scale(0.94,1.05);transform-origin:right 13.28px;">%</div><div class="t" style="left:109.0px;top:375.58px;font-weight:bold;font-size:12.5px;transform:scaleX(0.895);transform-origin:left center;color:#1e1e1e;">CBC Routine</div>
</div>
<svg width="720" height="917" viewBox="0 0 720 917">
<rect x="0" y="0" width="720" height="7.2" fill="#141414"/>
<rect x="0" y="6.4" width="720" height="0.8" fill="#000"/>
<rect x="41.7" y="895" width="658.3" height="2.5" fill="#000"/>
<rect x="0" y="899" width="720" height="18" fill="#141414"/>
</svg>
</body></html>
